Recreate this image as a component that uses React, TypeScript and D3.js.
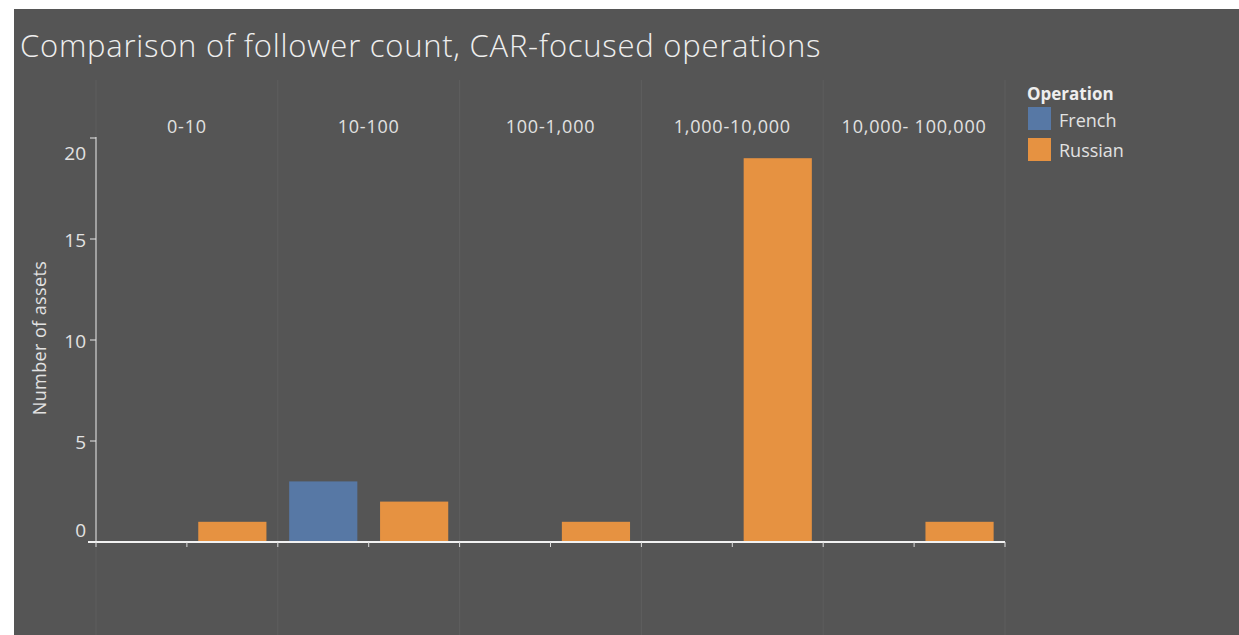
import React from "react";
import * as d3 from "d3";

const categories = ["0-10", "10-100", "100-1,000", "1,000-10,000", "10,000- 100,000"];
const operations = ["French", "Russian"];
const frenchValues = [0, 3, 0, 0, 0];
const russianValues = [1, 2, 1, 19, 1];
const yTicks = [0, 5, 10, 15, 20];
const colors = ["#5778a5", "#e69241"];

export default function App() {
  const W = 1239, H = 635;
  const left = 96, right = 1005, top = 138, bottom = 542;
  const x0 = d3.scaleBand<string>().domain(categories).range([left, right]);
  const x1 = d3.scaleBand<string>().domain(operations).range([0, x0.bandwidth()]).paddingInner(0.25).paddingOuter(0.125);
  const y = d3.scaleLinear().domain([0, 20]).range([bottom, top]);
  const series = [frenchValues, russianValues];
  const font = "'Open Sans', sans-serif";
  const txt = "#e2e2e2";
  const subTicks: number[] = [];
  categories.forEach((c) => {
    subTicks.push(x0(c)!);
    subTicks.push(x0(c)! + x0.bandwidth() / 2);
  });
  subTicks.push(right);
  // label vertical centre offsets (Tableau keeps end labels inside the axis)
  const labelCenter = (t: number) => (t === 20 ? y(t) + 15 : t === 0 ? y(t) - 12 : y(t) + 1);
  return (
    <svg width={W} height={H} style={{ position: "absolute", left: 0, top: 0 }}>
      <rect x={0} y={0} width={W} height={H} fill="#ffffff" />
      <rect x={14} y={9} width={W - 14} height={H - 9} fill="#555555" />
      <text x={20} y={57} fill="#eeeeee" fontFamily={font} fontWeight={300} fontSize={31} letterSpacing={0.75}>
        Comparison of follower count, CAR-focused operations
      </text>
      {categories.map((c) => (
        <line key={"g" + c} x1={x0(c)!} x2={x0(c)!} y1={80} y2={H} stroke="#5e5e5e" strokeWidth={1} />
      ))}
      <line x1={right} x2={right} y1={80} y2={H} stroke="#5e5e5e" strokeWidth={1} />
      {categories.map((c) => (
        <text key={"h" + c} x={x0(c)! + x0.bandwidth() / 2} y={133} textAnchor="middle" fill={txt} fontFamily={font} fontSize={18} letterSpacing={0.8}>
          {c}
        </text>
      ))}
      {series.map((vals, si) =>
        categories.map((c, ci) =>
          vals[ci] > 0 ? (
            <rect
              key={si + "-" + c}
              x={x0(c)! + x1(operations[si])!}
              y={y(vals[ci])}
              width={x1.bandwidth()}
              height={bottom - y(vals[ci])}
              fill={colors[si]}
            />
          ) : null
        )
      )}
      <line x1={left} x2={left} y1={top - 1} y2={bottom} stroke="#e8e8e8" strokeWidth={1} />
      {yTicks.map((t) => (
        <g key={"y" + t}>
          <line x1={left - 6} x2={left} y1={y(t)} y2={y(t)} stroke="#e8e8e8" strokeWidth={1} />
          <text x={86} y={labelCenter(t) + 7} textAnchor="end" fill={txt} fontFamily={font} fontSize={19}>
            {t}
          </text>
        </g>
      ))}
      <line x1={88} x2={right} y1={bottom} y2={bottom} stroke="#f2f2f2" strokeWidth={2} />
      {subTicks.map((t, i) => (
        <line key={"st" + i} x1={t} x2={t} y1={bottom} y2={bottom + 5} stroke="#dddddd" strokeWidth={1} />
      ))}
      <text transform={`translate(46,338) rotate(-90)`} textAnchor="middle" fill={txt} fontFamily={font} fontSize={18} letterSpacing={0.4}>
        Number of assets
      </text>
      <text x={1027} y={100} fill="#eeeeee" fontFamily={font} fontWeight={700} fontSize={17}>
        Operation
      </text>
      {operations.map((o, i) => (
        <g key={"l" + o}>
          <rect x={1028} y={107 + i * 31} width={23} height={23} fill={colors[i]} />
          <text x={1059} y={127 + i * 30} fill={txt} fontFamily={font} fontSize={18}>
            {o}
          </text>
        </g>
      ))}
    </svg>
  );
}
